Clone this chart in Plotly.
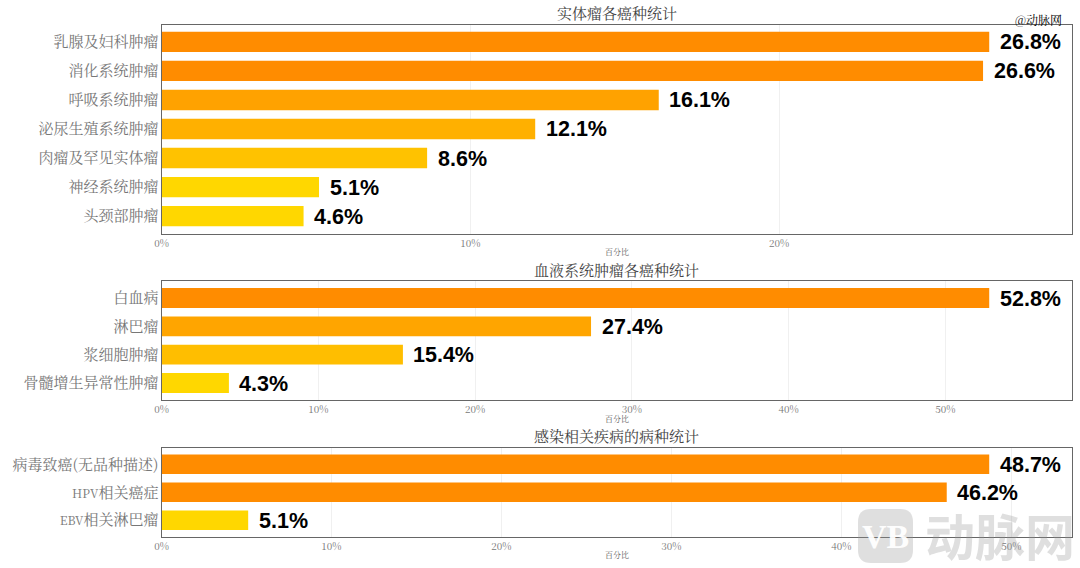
import plotly.graph_objects as go

FONT = "Noto Serif CJK SC, Liberation Serif, Noto Sans CJK SC, serif"
W, H = 1080, 568

solid_titles = "实体瘤各癌种统计"
solid_names = ["乳腺及妇科肿瘤", "消化系统肿瘤", "呼吸系统肿瘤", "泌尿生殖系统肿瘤", "肉瘤及罕见实体瘤", "神经系统肿瘤", "头颈部肿瘤"]
solid_values = [26.8, 26.6, 16.1, 12.1, 8.6, 5.1, 4.6]
solid_colors = ["#FF8C00", "#FF8C00", "#FFA200", "#FFB000", "#FFC200", "#FFD700", "#FFD700"]

blood_title = "血液系统肿瘤各癌种统计"
blood_names = ["白血病", "淋巴瘤", "浆细胞肿瘤", "骨髓增生异常性肿瘤"]
blood_values = [52.8, 27.4, 15.4, 4.3]
blood_colors = ["#FF8C00", "#FFA500", "#FFBE00", "#FFD700"]

infect_title = "感染相关疾病的病种统计"
infect_names = ["病毒致癌(无品种描述)", "HPV相关癌症", "EBV相关淋巴瘤"]
infect_values = [48.7, 46.2, 5.1]
infect_colors = ["#FF8C00", "#FF8C00", "#FFD700"]

panels = [
    (solid_titles, solid_names, solid_values, solid_colors, 24.5, 233.5, [0, 10, 20], 12.5, 251),
    (blood_title, blood_names, blood_values, blood_colors, 281, 400, [0, 10, 20, 30, 40, 50], 269, 418),
    (infect_title, infect_names, infect_values, infect_colors, 447.5, 537, [0, 10, 20, 30, 40, 50], 435.5, 554),
]
X0, X1 = 161.5, 1072


def tick_label(name):
    """Latin runs are set a little smaller, as the reference's narrow Latin glyphs are."""
    for latin in ("HPV", "EBV"):
        name = name.replace(latin, f'<span style="font-size:12px">{latin}</span>')
    return name


fig = go.Figure()
ann = []
layout = {}
for i, (title, names, vals, cols, top, bot, ticks, ty, aty) in enumerate(panels, start=1):
    xa = f"x{i}" if i > 1 else "x"
    ya = f"y{i}" if i > 1 else "y"
    fig.add_trace(go.Bar(
        x=vals, y=names, orientation="h", xaxis=xa, yaxis=ya,
        marker=dict(color=cols, line=dict(width=0)), width=0.7,
        hoverinfo="x+y", showlegend=False,
    ))
    key = "" if i == 1 else str(i)
    layout[f"xaxis{key}"] = dict(
        domain=[X0 / W, X1 / W], range=[0, max(vals) * 1.1], anchor=ya, automargin=False,
        tickvals=ticks, ticktext=[f"{t}%" for t in ticks], ticks="", ticklen=0,
        tickfont=dict(family=FONT, size=10, color="#777777"),
        showgrid=True, gridcolor="#F0F0F0", gridwidth=1, zeroline=False,
        showline=True, mirror=True, linecolor="#666666", linewidth=1,
    )
    layout[f"yaxis{key}"] = dict(
        domain=[1 - bot / H, 1 - top / H], anchor=xa, automargin=False,
        type="category", range=[len(names) - 0.4, -0.6], ticks="", ticklen=0,
        tickvals=names, ticktext=[tick_label(n) for n in names],
        ticklabelstandoff=-1,
        tickfont=dict(family=FONT, size=15, color="#777777"),
        showgrid=False, zeroline=False,
        showline=True, mirror=True, linecolor="#666666", linewidth=1,
    )
    for n, v in zip(names, vals):
        ann.append(dict(x=v, y=n, xref=xa, yref=ya, text=f"{v}%", showarrow=False,
                        xanchor="left", yanchor="middle", xshift=8.5, yshift=-0.5,
                        font=dict(family="Liberation Sans, Arial, sans-serif", size=21.5, color="#000000", weight="bold")))
    ann.append(dict(x=(X0 + X1) / 2 / W, y=1 - ty / H, xref="paper", yref="paper", text=title,
                    xanchor="center", yanchor="middle",
                    showarrow=False, font=dict(family=FONT, size=15, color="#444444")))
    ann.append(dict(x=(X0 + X1) / 2 / W, y=1 - aty / H, xref="paper", yref="paper", text="百分比",
                    xanchor="center", yanchor="middle",
                    showarrow=False, font=dict(family=FONT, size=8, color="#555555")))

ann.append(dict(x=1038.5 / W, y=1 - 20 / H, xref="paper", yref="paper", text="@动脉网", showarrow=False,
                xanchor="center", yanchor="middle",
                font=dict(family=FONT, size=12, color="#000000")))
ann.append(dict(x=1000 / W, y=1 - 534 / H, xref="paper", yref="paper", text="动脉网", showarrow=False,
                xanchor="center", yanchor="middle",
                font=dict(family="Noto Sans CJK SC", size=50, color="rgba(150,150,150,0.3)", weight="bold")))
ann.append(dict(x=885.5 / W, y=1 - 536 / H, xref="paper", yref="paper", text="<b>VB</b>", showarrow=False,
                xanchor="center", yanchor="middle",
                font=dict(family="Liberation Sans Narrow, Liberation Serif", size=34, color="rgba(255,255,255,0.95)")))


def rounded(x0, y0, x1, y1, r):
    rx, ry = r / W, r / H
    x0, x1 = x0 / W, x1 / W
    y0, y1 = 1 - y0 / H, 1 - y1 / H
    return (f"M {x0+rx} {y0} L {x1-rx} {y0} Q {x1} {y0} {x1} {y0-ry} L {x1} {y1+ry} Q {x1} {y1} {x1-rx} {y1} "
            f"L {x0+rx} {y1} Q {x0} {y1} {x0} {y1+ry} L {x0} {y0-ry} Q {x0} {y0} {x0+rx} {y0} Z")


shapes = [dict(type="path", xref="paper", yref="paper", layer="above",
               path=rounded(858, 509, 913, 563, 13),
               fillcolor="rgba(150,150,150,0.3)", line=dict(width=0))]

fig.update_layout(
    width=W, height=H, margin=dict(l=0, r=0, t=0, b=0),
    paper_bgcolor="white", plot_bgcolor="white",
    annotations=ann, shapes=shapes, **layout,
)
fig.write_html("out.html", config={"displayModeBar": False},
               post_script="document.body.style.margin='0';")
